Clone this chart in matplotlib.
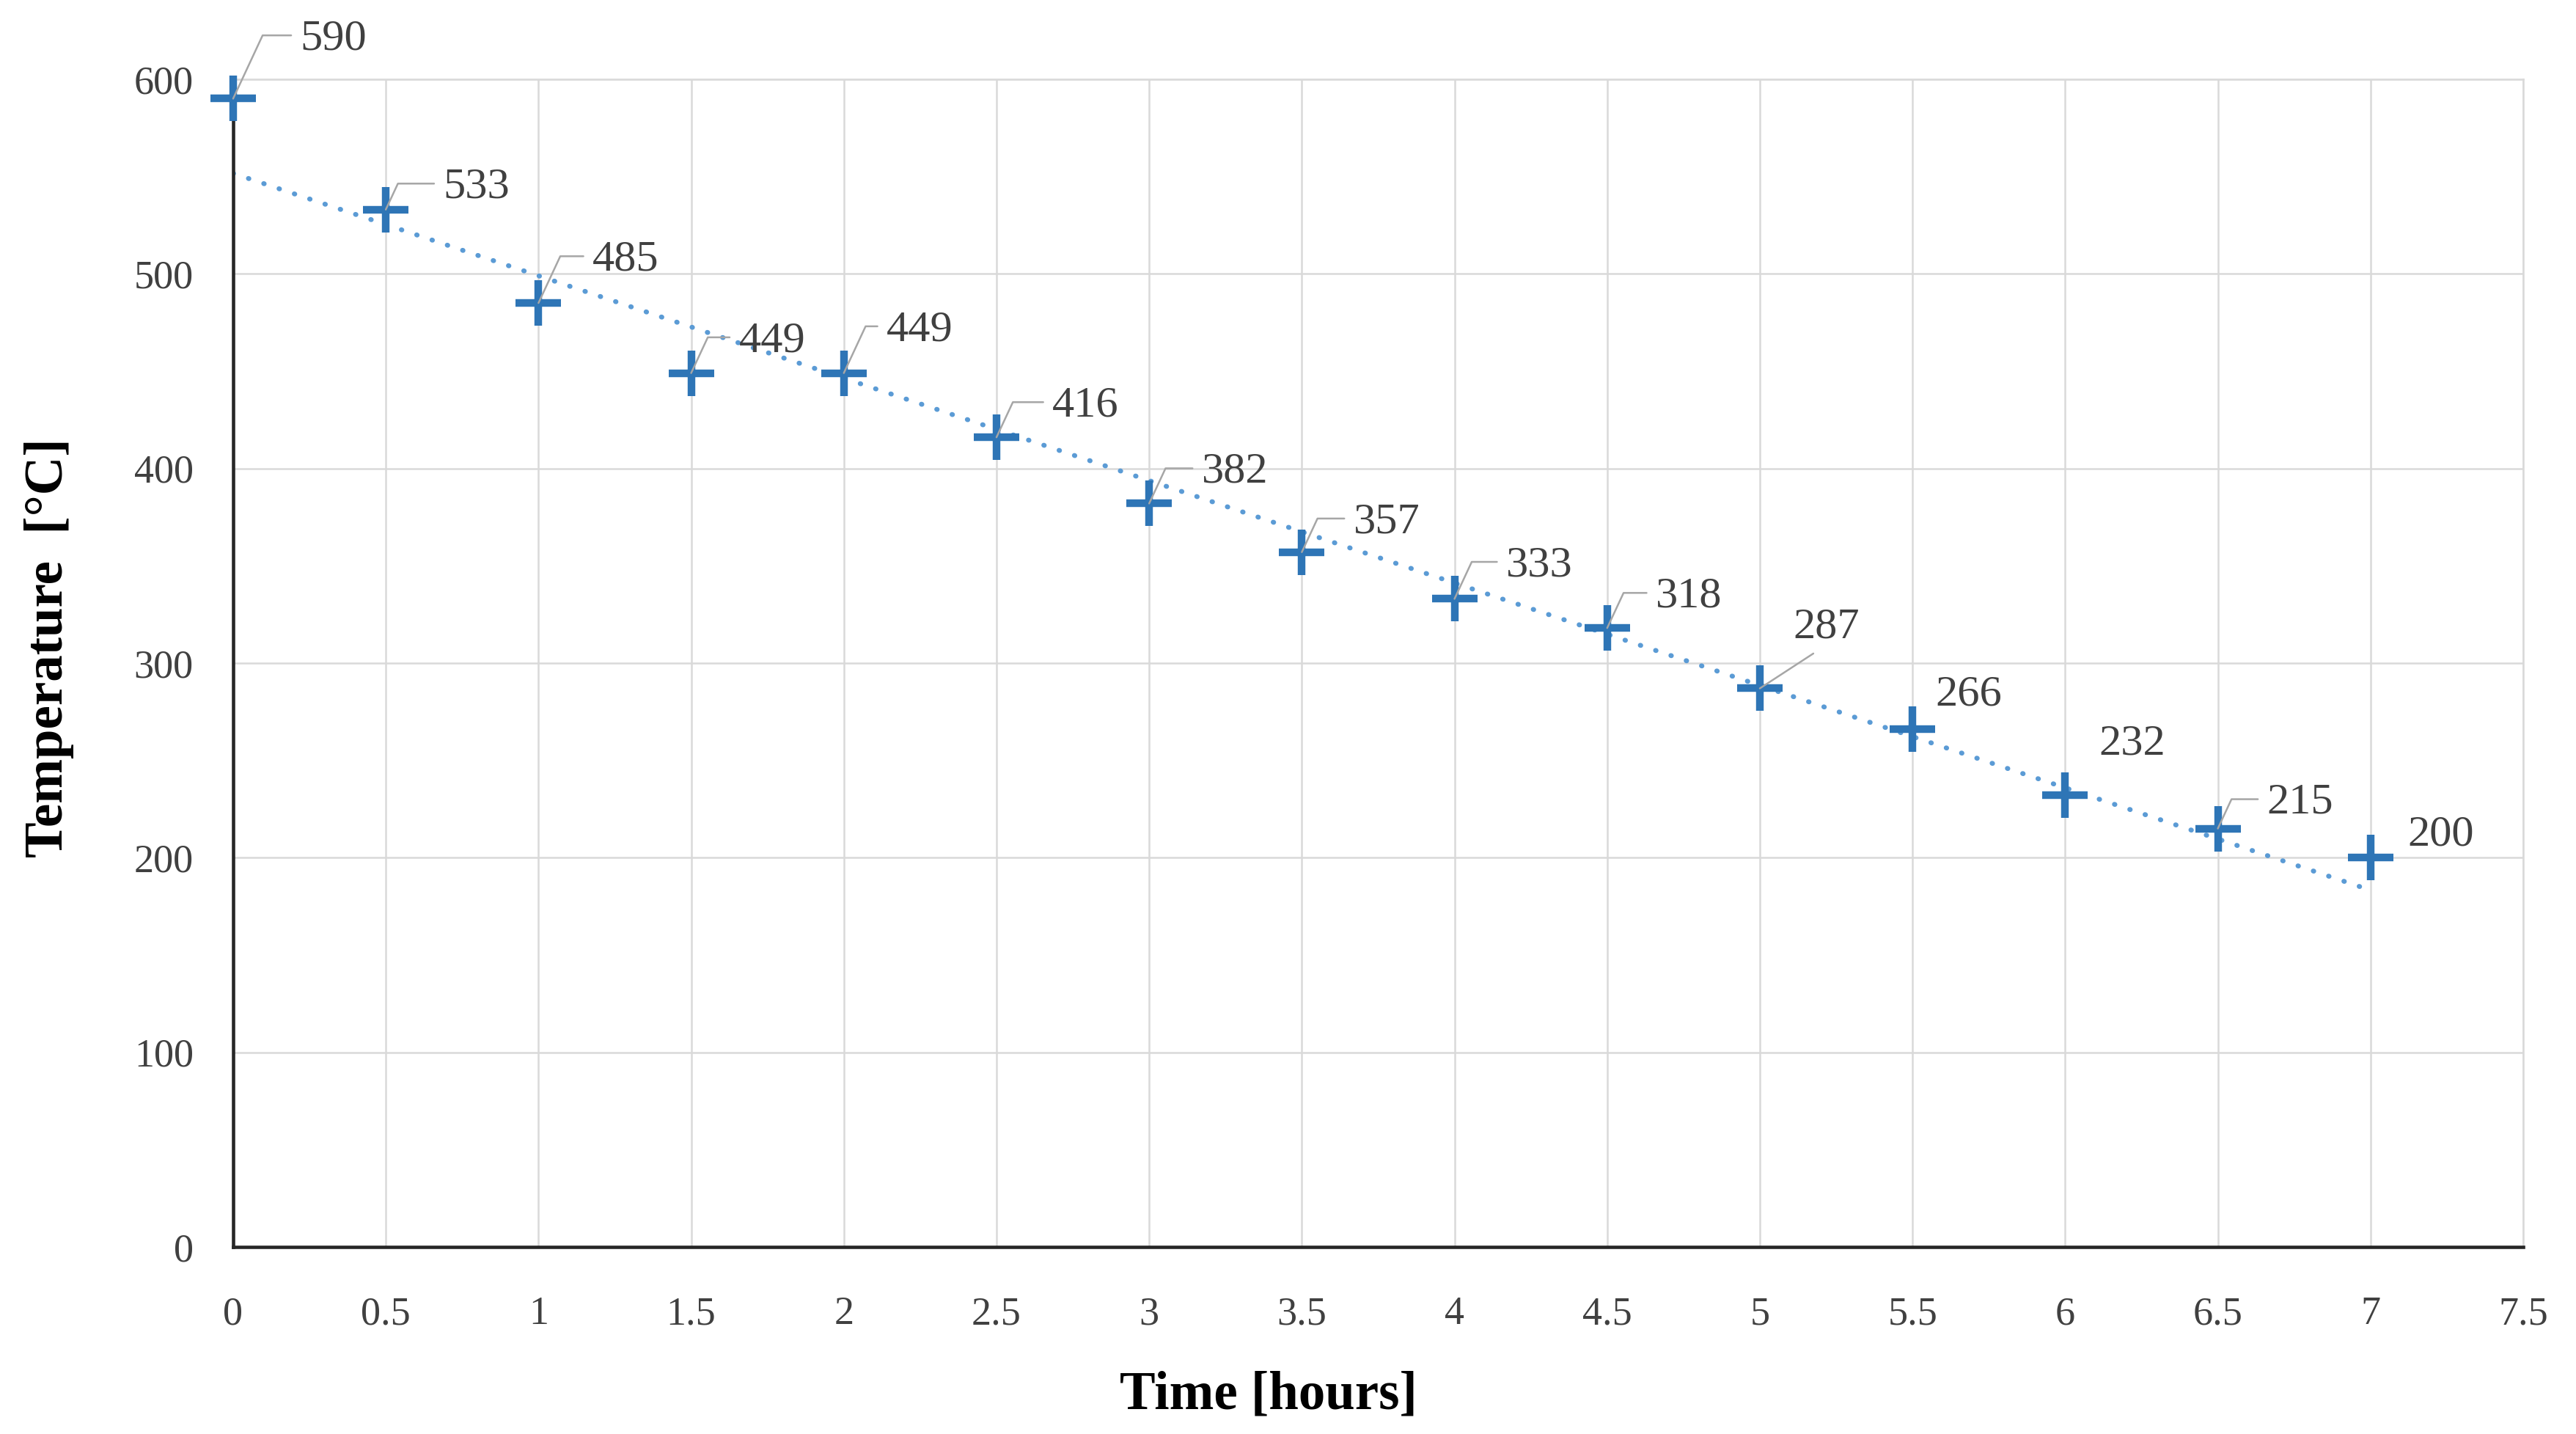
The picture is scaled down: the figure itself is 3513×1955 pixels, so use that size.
import numpy as np
import matplotlib
matplotlib.use("Agg")
import matplotlib.pyplot as plt

# --- data ---
time_h = [0, 0.5, 1, 1.5, 2, 2.5, 3, 3.5, 4, 4.5, 5, 5.5, 6, 6.5, 7]
temp_c = [590, 533, 485, 449, 449, 416, 382, 357, 333, 318, 287, 266, 232, 215, 200]
x_ticks = [0, 0.5, 1, 1.5, 2, 2.5, 3, 3.5, 4, 4.5, 5, 5.5, 6, 6.5, 7, 7.5]
x_tick_labels = ["0", "0.5", "1", "1.5", "2", "2.5", "3", "3.5", "4", "4.5",
                 "5", "5.5", "6", "6.5", "7", "7.5"]
y_ticks = [0, 100, 200, 300, 400, 500, 600]

# label placement (points from marker) and leader type, as in the original
label_offsets = [(22.0, 19.4), (18.8, 7.2), (17.7, 14.0), (15.6, 10.4), (14.0, 14.0),
                 (18.3, 10.2), (17.2, 10.2), (16.9, 9.7), (16.9, 10.8), (15.9, 10.2),
                 (10.8, 19.9), (7.5, 11.3), (11.0, 16.7), (16.1, 8.3), (12.1, 7.5)]
leaders = ["elbow"] * 10 + ["straight", None, None, "elbow", None]

plt.rcParams['font.family'] = ['Liberation Serif', 'DejaVu Serif']

fig = plt.figure(figsize=(3513 / 300, 1955 / 300), dpi=300)
ax = fig.add_axes([0.0905, 0.1304, 0.9795 - 0.0905, 0.9448 - 0.1304])

# grid
ax.set_axisbelow(True)
ax.grid(True, color='#d9d9d9', lw=0.6)

# linear trend line (dotted), like Excel
slope, icpt = np.polyfit(time_h, temp_c, 1)
tx = np.array([time_h[0], time_h[-1]])
ax.plot(tx, slope * tx + icpt, color='#5b9bd5', lw=1.6,
        linestyle=(0, (0.1, 3.2)), dash_capstyle='round', zorder=2)

# markers
ax.plot(time_h, temp_c, linestyle='none', marker='+', ms=15, mew=2.5,
        color='#2e75b6', zorder=3, clip_on=False)

# data labels
for x, y, (dx, dy), ld in zip(time_h, temp_c, label_offsets, leaders):
    props = None
    if ld == "elbow":
        props = dict(arrowstyle='-', color='#a6a6a6', lw=0.6, shrinkA=1, shrinkB=0,
                     relpos=(0, 0.6), connectionstyle='angle,angleA=0,angleB=65,rad=0')
    elif ld == "straight":
        props = dict(arrowstyle='-', color='#a6a6a6', lw=0.6, shrinkA=0, shrinkB=0,
                     relpos=(0.45, 0))
    ax.annotate(str(y), xy=(x, y), xytext=(dx, dy), textcoords='offset points',
                ha='left', va='center', fontsize=14.5, color='#404040',
                arrowprops=props, zorder=4)

ax.set_xlim(0, 7.5)
ax.set_ylim(0, 600)
ax.set_xticks(x_ticks)
ax.set_xticklabels(x_tick_labels)
ax.set_yticks(y_ticks)
ax.tick_params(axis='both', length=0, labelsize=13, colors='#404040')
ax.tick_params(axis='x', pad=16)
ax.tick_params(axis='y', pad=13)

for side in ['left', 'bottom']:
    ax.spines[side].set_color('#262626')
    ax.spines[side].set_linewidth(1.1)
for side in ['top', 'right']:
    ax.spines[side].set_color('#d9d9d9')
    ax.spines[side].set_linewidth(0.6)

ax.set_xlabel('Time [hours]', fontsize=17.5, fontweight='bold', color='black')
ax.xaxis.set_label_coords(0.452, -0.106)
ax.set_ylabel('Temperature  [°C]', fontsize=17.5, fontweight='bold', color='black')
ax.yaxis.set_label_coords(-0.0695, 0.513)

fig.savefig('out.png', dpi=300)
